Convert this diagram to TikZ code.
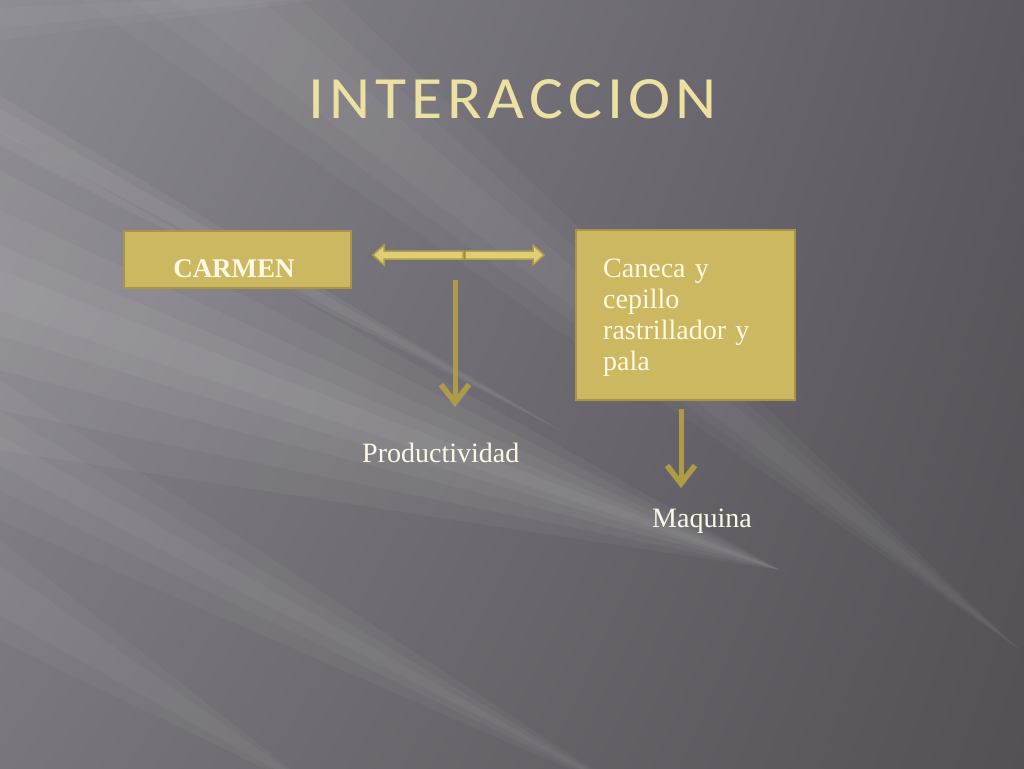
\documentclass[tikz,border=0pt]{standalone}
\usepackage{fontspec}
\setmainfont{Liberation Serif}
\newfontfamily\titlefont[LetterSpace=8]{Carlito}
\usetikzlibrary{arrows.meta,shadings}
\definecolor{bgUL}{HTML}{8C8A91}
\definecolor{bgUR}{HTML}{5C5A60}
\definecolor{bgLL}{HTML}{78767C}
\definecolor{bgLR}{HTML}{535156}
\definecolor{boxfill}{HTML}{CDB862}
\definecolor{boxedge}{HTML}{A8954A}
\definecolor{arrowcol}{HTML}{AE9B48}
\definecolor{dblfill}{HTML}{E0CD74}
\definecolor{dbledge}{HTML}{B09D4A}
\definecolor{txtcol}{HTML}{FFF8E2}
\definecolor{titlecol}{HTML}{EDE1A2}
\tikzset{
  goldbox/.style={draw=boxedge, line width=2.5pt, fill=boxfill, inner sep=0pt},
  downarrow/.style={draw=arrowcol, line width=5pt, -{Straight Barb[length=18pt,width=28pt,line width=5.5pt]}},
  dblarrow/.style={draw=dbledge, line width=1.5pt, fill=dblfill, line join=miter},
  lbl/.style={text=txtcol, font=\fontsize{28}{31}\selectfont, inner sep=0pt, anchor=base west},
  ray/.style={fill=white, fill opacity=#1},
}
\begin{document}
\begin{tikzpicture}[x=1pt,y=-1pt]
\useasboundingbox (0,0) rectangle (1024,768);
% background
\begin{scope}
\clip (0,0) rectangle (1024,768);
\shade[upper left=bgUL, upper right=bgUR, lower left=bgLL, lower right=bgLR] (0,0) rectangle (1024,768);
% soft light rays
\foreach \a/\b in {130/450,170/410,210/370,245/335,270/310} \fill[ray=0.045] (-1,\a) -- (780,570) -- (-1,\b) -- cycle;
\foreach \a/\b in {80/340,130/300,170/260} \fill[ray=0.03] (\a,-1) -- (1020,650) -- (\b,-1) -- cycle;
\foreach \a/\b in {95/145,108/132} \fill[ray=0.05] (-1,\a) -- (560,430) -- (-1,\b) -- cycle;
\foreach \a/\b in {380/520,410/490,435/465} \fill[ray=0.035] (-1,\a) -- (640,800) -- (-1,\b) -- cycle;
\foreach \a/\b in {540/640,565/615} \fill[ray=0.035] (-1,\a) -- (330,800) -- (-1,\b) -- cycle;
\foreach \a/\b in {0/40,8/28} \fill[ray=0.03] (-1,\a) -- (400,-10) -- (-1,\b) -- cycle;
\end{scope}
% title
\node[text=titlecol, font=\titlefont\fontsize{60}{60}\selectfont, anchor=base, xscale=1.06, inner sep=0pt] (title) at (512.5,118) {INTERACCION};
% boxes
\node[goldbox, minimum width=227pt, minimum height=57pt] (carmen) at (237.5,259.5) {};
\node[text=txtcol, font=\bfseries\fontsize{27}{30}\selectfont, anchor=base, inner sep=0pt] (carmentext) at (234,277) {CARMEN};
\node[goldbox, minimum width=219pt, minimum height=170pt] (caneca) at (685.5,315) {};
\node[lbl, align=left, text width=180pt] (canecatext) at (603,277) {Caneca y\\cepillo\\rastrillador y\\pala};
% double arrow
\coordinate (mid) at (464,255);
\draw[dblarrow] (mid) ++(-1,-4) -- (384,251) -- (384,245) -- (373,255) -- (384,265) -- (384,259) -- (463,259) -- cycle;
\draw[dblarrow] (mid) ++(1,-4) -- (533,251) -- (533,245) -- (544,255) -- (533,265) -- (533,259) -- (465,259) -- cycle;
% labels
\node[lbl] (prod) at (362,462) {Productividad};
\node[lbl] (maq) at (652,527) {Maquina};
% down arrows
\coordinate (a1s) at (455,280);
\coordinate (a1e) at (455,407);
\draw[downarrow] (a1s) -- (a1e);
\coordinate (a2e) at (681,488);
\draw[downarrow] (caneca.south -| a2e) ++(0,8) -- (a2e);
\end{tikzpicture}
\end{document}
